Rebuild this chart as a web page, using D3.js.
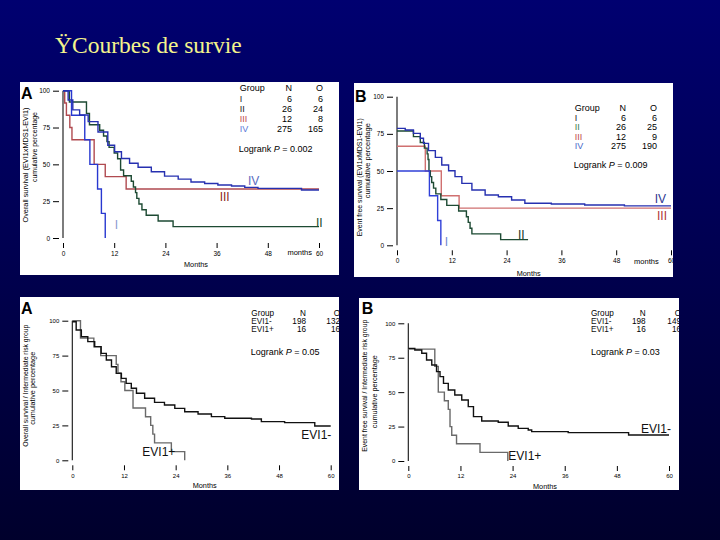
<!DOCTYPE html>
<html>
<head>
<meta charset="utf-8">
<script src="https://cdn.jsdelivr.net/npm/d3@7"></script>
<style>
  body { margin: 0; background: #000050; }
  svg { display: block; font-family: 'Liberation Sans', Arial, sans-serif; }
</style>
</head>
<body>
<div id="chart"></div>
<script>
// tick labels
const monthTicks = [0, 12, 24, 36, 48, 60]
const pctTicks = [0, 25, 50, 75, 100]

// top panels: groups I-IV
const groupNames = ['I', 'II', 'III', 'IV']
const osN = [6, 26, 12, 275]
const osO = [6, 24, 8, 165]
const efsN = [6, 26, 12, 275]
const efsO = [6, 25, 9, 190]

// bottom panels: EVI1- / EVI1+
const eviNames = ['EVI1-', 'EVI1+']
const irOsN = [198, 16]
const irOsO = [132, 16]
const irEfsN = [198, 16]
const irEfsO = [149, 16]

// curves [months, cumulative %]
const osI = [[0, 100], [2, 83.3], [5.1, 66.7], [6.3, 50], [8.1, 33.3], [9, 16.7], [9.9, 0]]
const osII = [[0, 100], [1.5, 92.3], [5.5, 84.6], [6.2, 76.9], [8.6, 73.1], [9.5, 69.2], [10.3, 65.4], [10.8, 61.5], [12, 57.7], [12.8, 53.8], [13.5, 46.2], [14.2, 42.3], [16, 38.5], [16.5, 34.6], [17, 30.8], [17.3, 26.9], [17.8, 23.1], [18.5, 19.2], [19.5, 15.4], [22.3, 11.5], [25.8, 7.7], [60, 7.7]]
const osIII = [[0, 100], [0.4, 91.7], [0.8, 83.3], [1.6, 75], [2.1, 66.7], [7.3, 50], [9.9, 41.7], [14.8, 33.3], [60, 33.3]]
const osIV = [[0, 100], [1.2, 93.7], [2.3, 87], [3.9, 83.5], [5.9, 79], [8.2, 72], [10.5, 63], [12.1, 58.6], [13.7, 54], [15.6, 50.7], [17.6, 48], [20.7, 45], [23.8, 42], [27, 40], [30, 38], [33.2, 37], [36.3, 36], [39.5, 35.3], [42.6, 34.4], [45.7, 33.7], [55.9, 32.6], [60, 32.6]]

const efsI = [[0, 50], [7.1, 33.3], [8.9, 16.7], [9.6, 0]]
const efsII = [[0, 76.9], [3.6, 73.1], [5.1, 69.2], [6, 65.4], [6.6, 61.5], [6.8, 57.7], [7, 50], [7.3, 46.2], [7.6, 42.3], [8, 38.5], [8.5, 34.6], [9.6, 30.8], [10.9, 26.9], [13.5, 23.1], [15.2, 19.2], [15.6, 15.4], [16, 11.5], [16.4, 7.7], [22.7, 3.8], [28.7, 3.8]]
const efsIII = [[0, 66.7], [6.2, 50], [9.7, 33.3], [13.6, 25], [60, 25]]
const efsIV = [[0, 78.7], [1.8, 77.6], [3.6, 75.3], [5.1, 72], [5.8, 68.6], [6.9, 63.7], [8.4, 59.2], [9.8, 54], [11.3, 50.2], [12.7, 46.2], [14.2, 41.7], [16.4, 37.2], [19.3, 33.9], [22.2, 32.7], [25.1, 30.5], [28, 28.3], [33.8, 27.8], [41.1, 27.1], [49.8, 26.5], [60, 26.5]]

const irOsNeg = [[0, 99.3], [0.9, 93.3], [2.1, 88.5], [3.6, 85], [5.2, 81.4], [6.7, 76.6], [7.9, 71.8], [9.1, 67], [10.2, 62.3], [11.4, 58.7], [12.5, 55.1], [13.7, 51.6], [14.9, 48], [16.8, 44.4], [19.1, 41.5], [21.4, 39.6], [23.8, 37.2], [26.1, 34.8], [29.2, 33.2], [32.3, 31.3], [35.4, 30.1], [41.6, 29.6], [43.9, 27.7], [49.3, 27], [56.3, 24.6], [60, 24.6]]
const irOsPos = [[0, 100], [1.9, 87.5], [5, 81.25], [6.6, 75], [10.2, 68.75], [10.6, 62.5], [11.3, 56.25], [12.2, 50], [14.1, 37.5], [17, 31.25], [18.2, 25], [18.7, 18.75], [19.1, 12.5], [23, 6.25], [26.1, 0]]

const irEfsNeg = [[0, 81.8], [1.5, 80.6], [3.1, 78.2], [4.2, 73.4], [5.4, 69.7], [6.5, 64.9], [7.3, 61.3], [8.1, 56.4], [9.2, 51.6], [10.7, 47.9], [12.3, 44.3], [13.8, 39.5], [15, 32.2], [16.9, 29.1], [20.7, 28.1], [23, 25.4], [25.3, 23.7], [27.6, 22.5], [28.4, 21.3], [36.8, 20.6], [50.7, 18.9], [60, 18.9]]
const irEfsPos = [[0, 81.25], [6.1, 68.75], [6.9, 50], [8.3, 43.75], [9.2, 37.5], [9.6, 25], [10, 18.75], [11.1, 12.5], [16.5, 6.25], [22.9, 6.25], [22.9, 0]]

const panels = [
  {
    box: [20, 82, 319, 193], letter: 'A', letterPos: [21, 99],
    xr: [63, 319], yr: [238, 90.7], tickFont: 6.5,
    yTitle: [{t: 'Overall survival (EVI1xMDS1-EVI1)', x: 27.5, y: 165, len: 115}, {t: 'cumulative percentage', x: 36.5, y: 147, len: 70}],
    monthsWord: [312, 252.7], xTitle: [196, 264],
    series: [{d: osIII, c: '#b04a50'}, {d: osII, c: '#1d4a33'}, {d: osI, c: '#2838d0'}, {d: osIV, c: '#2630b0'}],
    legend: {names: groupNames, n: osN, o: osO, colors: ['#222', '#111', '#c04848', '#5a78d8'], x: 239.7, nx: 292, ox: 323, y: 88.3, step: 10.2, font: 9},
    logrank: {x: 238.7, y: 149, p: '0.002'},
    labels: [{t: 'IV', x: 248, y: 180.7, c: '#5a6cc0'}, {t: 'III', x: 219.7, y: 196.7, c: '#8b1f24'}, {t: 'II', x: 316, y: 222.7, c: '#1a4a2a'}, {t: 'I', x: 114.7, y: 225, c: '#8a9ad0'}],
    labelFont: 12
  },
  {
    box: [354, 83, 319, 194], letter: 'B', letterPos: [355, 102],
    xr: [397, 671], yr: [245.3, 96.7], tickFont: 6.5,
    yTitle: [{t: 'Event free survival (EVI1xMDS1-EVI1)', x: 361.8, y: 177.3, len: 118}, {t: 'cumulative percentage', x: 369.5, y: 160.7, len: 75}],
    monthsWord: [658.7, 261.7], xTitle: [528.7, 273],
    series: [{d: efsIII, c: '#d07070'}, {d: efsII, c: '#1d4a33'}, {d: efsI, c: '#3040d8'}, {d: efsIV, c: '#2630b0'}],
    legend: {names: groupNames, n: efsN, o: efsO, colors: ['#222', '#3a7a4a', '#c04848', '#4a68c8'], x: 574.7, nx: 626, ox: 657, y: 108.3, step: 9.4, font: 9},
    logrank: {x: 573.7, y: 165, p: '0.009'},
    labels: [{t: 'IV', x: 654.7, y: 198.3, c: '#2e3690'}, {t: 'III', x: 657, y: 215.7, c: '#b03a3a'}, {t: 'II', x: 518, y: 235, c: '#1a3a2a'}, {t: 'I', x: 444.7, y: 241.7, c: '#7088d0'}],
    labelFont: 12
  },
  {
    box: [20, 297, 319, 193], letter: 'A', letterPos: [21, 314],
    xr: [72.3, 330.7], yr: [460.3, 320.7], tickFont: 6,
    yTitle: [{t: 'Overall survival / Intermediate risk group', x: 27.5, y: 385.7, len: 122}, {t: 'cumulative percentage', x: 35.2, y: 388.3, len: 73}],
    monthsWord: null, xTitle: [204.7, 485.7],
    series: [{d: irOsPos, c: '#6a6a6a'}, {d: irOsNeg, c: '#111'}],
    legend: {names: eviNames, n: irOsN, o: irOsO, colors: ['#111', '#111'], x: 251.3, nx: 306, ox: 340, y: 313, step: 8.3, font: 8.2},
    logrank: {x: 250.7, y: 351.7, p: '0.05'},
    labels: [{t: 'EVI1-', x: 301.3, y: 435, c: '#111'}, {t: 'EVI1+', x: 142.3, y: 451.7, c: '#111'}],
    labelFont: 12
  },
  {
    box: [359, 298, 320, 192], letter: 'B', letterPos: [361.7, 314],
    xr: [408.3, 669], yr: [461, 323.3], tickFont: 6,
    yTitle: [{t: 'Event free survival / Intermediate risk group', x: 367.2, y: 385.7, len: 132}, {t: 'cumulative percentage', x: 377.2, y: 391.7, len: 73}],
    monthsWord: null, xTitle: [545, 486.7],
    series: [{d: irEfsPos, c: '#6a6a6a'}, {d: irEfsNeg, c: '#111'}],
    legend: {names: eviNames, n: irEfsN, o: irEfsO, colors: ['#111', '#111'], x: 591, nx: 645.7, ox: 681, y: 313, step: 8.3, font: 8.2},
    logrank: {x: 591, y: 351.7, p: '0.03'},
    labels: [{t: 'EVI1-', x: 641, y: 428.3, c: '#111'}, {t: 'EVI1+', x: 508.3, y: 456, c: '#111'}],
    labelFont: 12
  }
]

let svg = d3.select('#chart')
  .append('svg')
  .attr('width', 720)
  .attr('height', 540)

// background gradient
let defs = svg.append('defs')
let grad = defs.append('linearGradient').attr('id', 'bg')
  .attr('x1', 0).attr('y1', 0).attr('x2', 0).attr('y2', 1)
grad.append('stop').attr('offset', '0%').attr('stop-color', '#000070')
grad.append('stop').attr('offset', '100%').attr('stop-color', '#00002c')
svg.append('rect').attr('width', 720).attr('height', 540).attr('fill', 'url(#bg)')

svg.append('text')
  .attr('x', 55)
  .attr('y', 53)
  .attr('font-family', "'Liberation Serif', 'Times New Roman', serif")
  .attr('font-size', 23.5)
  .attr('fill', '#f4f48c')
  .text('ŸCourbes de survie')

panels.forEach(function (p, i) {
  let [bx, by, bw, bh] = p.box
  defs.append('clipPath').attr('id', 'clip' + i)
    .append('rect').attr('x', bx).attr('y', by).attr('width', bw).attr('height', bh)
  let g = svg.append('g').attr('clip-path', 'url(#clip' + i + ')')
  g.append('rect').attr('x', bx).attr('y', by).attr('width', bw).attr('height', bh).attr('fill', '#fff')

  let x = d3.scaleLinear().domain([0, 60]).range(p.xr)
  let y = d3.scaleLinear().domain([0, 100]).range(p.yr)

  // panel letter
  g.append('text')
    .attr('x', p.letterPos[0]).attr('y', p.letterPos[1])
    .attr('font-size', 16).attr('font-weight', 'bold')
    .text(p.letter)

  // y axis: line + detached ticks
  g.append('line')
    .attr('x1', x(0)).attr('x2', x(0))
    .attr('y1', y(100)).attr('y2', y(0))
    .attr('stroke', '#111').attr('stroke-width', 1.1)
  g.append('g')
    .attr('transform', 'translate(' + (x(0) - 4) + ',0)')
    .call(d3.axisLeft(y).tickValues(pctTicks).tickSize(6).tickPadding(3))
    .call(a => a.select('.domain').remove())
    .attr('font-size', p.tickFont).attr('font-family', null)

  // x axis ticks below the zero line
  g.append('g')
    .attr('transform', 'translate(0,' + (y(0) + 5) + ')')
    .call(d3.axisBottom(x).tickValues(monthTicks).tickSize(5).tickPadding(3))
    .call(a => a.select('.domain').remove())
    .attr('font-size', p.tickFont).attr('font-family', null)

  if (p.monthsWord) {
    g.append('text')
      .attr('x', p.monthsWord[0]).attr('y', p.monthsWord[1])
      .attr('dy', '0.35em').attr('text-anchor', 'end')
      .attr('font-size', 7.5)
      .text('months')
  }
  g.append('text')
    .attr('x', p.xTitle[0]).attr('y', p.xTitle[1])
    .attr('dy', '0.35em').attr('text-anchor', 'middle')
    .attr('font-size', 7.3)
    .text('Months')

  // rotated y titles
  p.yTitle.forEach(function (t, k) {
    g.append('text')
      .attr('transform', 'translate(' + t.x + ',' + t.y + ') rotate(-90)')
      .attr('text-anchor', 'middle')
      .attr('font-size', k === 0 ? 7 : 6.5)
      .attr('textLength', t.len)
      .attr('lengthAdjust', 'spacingAndGlyphs')
      .text(t.t)
  })

  // survival curves
  let line = d3.line()
    .x(function (d) { return x(d[0]) })
    .y(function (d) { return y(d[1]) })
    .curve(d3.curveStepAfter)
  p.series.forEach(function (s) {
    g.append('path')
      .attr('d', line(s.d))
      .attr('fill', 'none')
      .attr('stroke', s.c)
      .attr('stroke-width', 1.4)
  })

  // legend table
  let L = p.legend
  let head = g.append('g').attr('font-size', L.font)
  head.append('text').attr('x', L.x).attr('y', L.y).attr('dy', '0.35em').text('Group')
  head.append('text').attr('x', L.nx).attr('y', L.y).attr('dy', '0.35em').attr('text-anchor', 'end').text('N')
  head.append('text').attr('x', L.ox).attr('y', L.y).attr('dy', '0.35em').attr('text-anchor', 'end').text('O')
  L.names.forEach(function (nm, k) {
    let ry = L.y + (k + 1) * L.step
    head.append('text').attr('x', L.x).attr('y', ry).attr('dy', '0.35em').attr('fill', L.colors[k]).text(nm)
    head.append('text').attr('x', L.nx).attr('y', ry).attr('dy', '0.35em').attr('text-anchor', 'end').text(L.n[k])
    head.append('text').attr('x', L.ox).attr('y', ry).attr('dy', '0.35em').attr('text-anchor', 'end').text(L.o[k])
  })
  let lr = g.append('text')
    .attr('x', p.logrank.x).attr('y', p.logrank.y).attr('dy', '0.35em')
    .attr('font-size', 9)
  lr.append('tspan').text('Logrank ')
  lr.append('tspan').attr('font-style', 'italic').text('P')
  lr.append('tspan').text(' = ' + p.logrank.p)

  // curve labels
  p.labels.forEach(function (l) {
    g.append('text')
      .attr('x', l.x).attr('y', l.y).attr('dy', '0.35em')
      .attr('font-size', p.labelFont)
      .attr('fill', l.c)
      .text(l.t)
  })
})
</script>
</body>
</html>
